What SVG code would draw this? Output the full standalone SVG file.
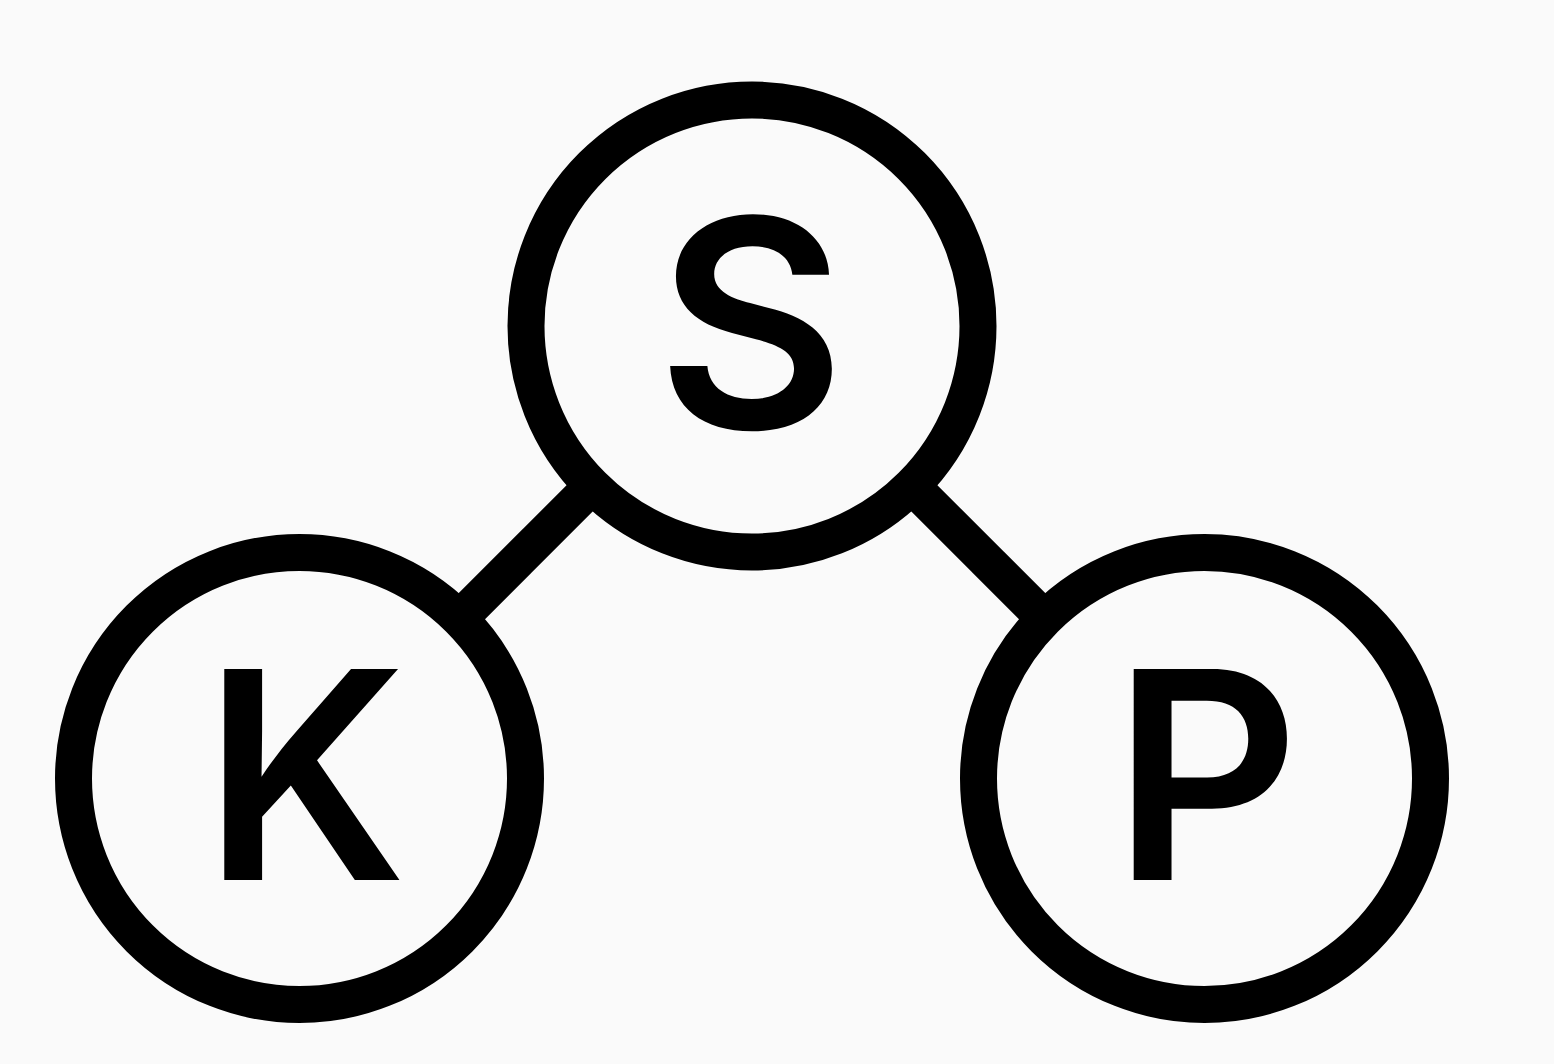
<svg xmlns="http://www.w3.org/2000/svg" width="1554" height="1064" viewBox="0 0 1554 1064">
<style>
.edge{stroke:#000;stroke-width:37;fill:none}
.node{fill:#fafafa;stroke:#000;stroke-width:37}
.lbl{font-family:Inter,"Liberation Sans",sans-serif;font-weight:600;font-size:290px;fill:#000;text-anchor:middle}
</style>
<rect width="1554" height="1064" fill="#fafafa"/>
<g id="connectors">
<line class="edge" x1="752" y1="326" x2="299.5" y2="778.5"/>
<line class="edge" x1="752" y1="326" x2="1204.5" y2="778.5"/>
</g>
<g id="node-S">
<circle class="node" cx="752" cy="326" r="226"/>
<text class="lbl" x="751" y="428">S</text>
</g>
<g id="node-K">
<circle class="node" cx="299.5" cy="778.5" r="226"/>
<text class="lbl" x="305" y="880">K</text>
</g>
<g id="node-P">
<circle class="node" cx="1204.5" cy="778.5" r="226"/>
<text class="lbl" x="1206" y="880">P</text>
</g>
</svg>
